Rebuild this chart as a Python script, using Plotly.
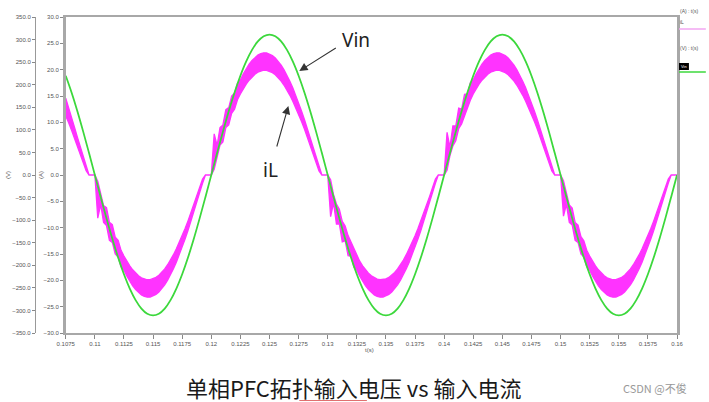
import plotly.graph_objects as go

# ------------------------------------------------------------------ data
T_START = 0.1075          # s, left edge of the time window
VIN_STEP = 0.0005         # s, sampling of the Vin trace
IL_STEP = 0.00025         # s, sampling of the iL ripple envelope

# Input voltage Vin (V)
VIN = [
    219.9, 182.8, 141.2, 96.1, 48.6,
    0.0, -48.6, -96.1, -141.2, -182.8, -219.9, -251.6, -277.1, -295.8, -307.2,
    -311.0, -307.2, -295.8, -277.1, -251.6, -219.9, -182.8, -141.2, -96.1, -48.6,
    0.0, 48.6, 96.1, 141.2, 182.8, 219.9, 251.6, 277.1, 295.8, 307.2,
    311.0, 307.2, 295.8, 277.1, 251.6,
    219.9, 182.8, 141.2, 96.1, 48.6,
    0.0, -48.6, -96.1, -141.2, -182.8, -219.9, -251.6, -277.1, -295.8, -307.2,
    -311.0, -307.2, -295.8, -277.1, -251.6, -219.9, -182.8, -141.2, -96.1, -48.6,
    0.0, 48.6, 96.1, 141.2, 182.8, 219.9, 251.6, 277.1, 295.8, 307.2,
    311.0, 307.2, 295.8, 277.1, 251.6,
    219.9, 182.8, 141.2, 96.1, 48.6,
    0.0, -48.6, -96.1, -141.2, -182.8, -219.9, -251.6, -277.1, -295.8, -307.2,
    -311.0, -307.2, -295.8, -277.1, -251.6, -219.9, -182.8, -141.2, -96.1, -48.6,
    0.0,
]

# Inductor current iL (A): upper / lower edge of the switching-ripple band
IL_HI_A = [14.6, 12.9, 11.0, 9.1, 7.2, 5.3, 3.4, 1.6, 0.0, 0.0]
IL_LO_A = [11.2, 9.9, 8.5, 7.0, 5.5, 4.0, 2.4, 0.8, 0.0, 0.0]

IL_HI_B = [0.0, -1.2, -3.4, -5.8, -6.2, -9.0, -9.4, -11.8, -12.4, -14.3,
           -15.39, -16.37, -17.24, -18.00, -18.63, -19.14, -19.52, -19.77, -19.89, -19.87,
           -19.72, -19.44, -19.03, -18.49, -17.83, -17.04, -16.14, -15.13, -14.02, -12.82,
           -11.52, -10.15, -8.71, -7.20, -5.65, -4.06, -2.43, -0.79, 0.0, 0.0]
IL_LO_B = [0.0, -8.2, -5.6, -9.0, -9.6, -12.4, -12.8, -15.0, -15.6, -17.4,
           -18.09, -19.20, -20.19, -21.05, -21.77, -22.34, -22.77, -23.06, -23.19, -23.17,
           -23.00, -22.68, -22.22, -21.60, -20.85, -19.97, -18.95, -17.81, -16.55, -15.19,
           -13.72, -12.17, -10.53, -8.83, -7.07, -5.27, -3.43, -1.57, 0.0, 0.0]

IL_HI_C = [0.0, 7.8, 5.6, 9.0, 9.5, 12.4, 12.8, 15.0, 15.6, 17.4,
           18.09, 19.20, 20.19, 21.05, 21.77, 22.34, 22.77, 23.06, 23.19, 23.17,
           23.00, 22.68, 22.22, 21.60, 20.85, 19.97, 18.95, 17.81, 16.55, 15.19,
           13.72, 12.17, 10.53, 8.83, 7.07, 5.27, 3.43, 1.57, 0.0, 0.0]
IL_LO_C = [0.0, 1.1, 3.5, 5.7, 6.3, 9.0, 9.5, 11.7, 12.5, 14.3,
           15.39, 16.37, 17.24, 18.00, 18.63, 19.14, 19.52, 19.77, 19.89, 19.87,
           19.72, 19.44, 19.03, 18.49, 17.83, 17.04, 16.14, 15.13, 14.02, 12.82,
           11.52, 10.15, 8.71, 7.20, 5.65, 4.06, 2.43, 0.79, 0.0, 0.0]

IL_HI_D = [0.0, -0.9, -3.7, -5.5, -6.5, -8.8, -9.7, -11.5, -12.7, -14.2,
           -15.39, -16.37, -17.24, -18.00, -18.63, -19.14, -19.52, -19.77, -19.89, -19.87,
           -19.72, -19.44, -19.03, -18.49, -17.83, -17.04, -16.14, -15.13, -14.02, -12.82,
           -11.52, -10.15, -8.71, -7.20, -5.65, -4.06, -2.43, -0.79, 0.0, 0.0]
IL_LO_D = [0.0, -7.9, -5.3, -9.3, -9.3, -12.7, -12.5, -15.3, -15.4, -17.5,
           -18.09, -19.20, -20.19, -21.05, -21.77, -22.34, -22.77, -23.06, -23.19, -23.17,
           -23.00, -22.68, -22.22, -21.60, -20.85, -19.97, -18.95, -17.81, -16.55, -15.19,
           -13.72, -12.17, -10.53, -8.83, -7.07, -5.27, -3.43, -1.57, 0.0, 0.0]

IL_HI_E = [0.0, 8.1, 5.3, 9.3, 9.3, 12.7, 12.5, 15.3, 15.4, 17.5,
           18.09, 19.20, 20.19, 21.05, 21.77, 22.34, 22.77, 23.06, 23.19, 23.17,
           23.00, 22.68, 22.22, 21.60, 20.85, 19.97, 18.95, 17.81, 16.55, 15.19,
           13.72, 12.17, 10.53, 8.83, 7.07, 5.27, 3.43, 1.57, 0.0, 0.0]
IL_LO_E = [0.0, 0.9, 3.7, 5.5, 6.5, 8.8, 9.7, 11.5, 12.7, 14.2,
           15.39, 16.37, 17.24, 18.00, 18.63, 19.14, 19.52, 19.77, 19.89, 19.87,
           19.72, 19.44, 19.03, 18.49, 17.83, 17.04, 16.14, 15.13, 14.02, 12.82,
           11.52, 10.15, 8.71, 7.20, 5.65, 4.06, 2.43, 0.79, 0.0, 0.0]

IL_HI_F = [0.0, -1.1, -3.5, -5.7, -6.3, -9.0, -9.5, -11.7, -12.5, -14.3,
           -15.39, -16.37, -17.24, -18.00, -18.63, -19.14, -19.52, -19.77, -19.89, -19.87,
           -19.72, -19.44, -19.03, -18.49, -17.83, -17.04, -16.14, -15.13, -14.02, -12.82,
           -11.52, -10.15, -8.71, -7.20, -5.65, -4.06, -2.43, -0.79, 0.0, 0.0]
IL_LO_F = [0.0, -7.8, -5.6, -9.0, -9.5, -12.4, -12.8, -15.0, -15.6, -17.4,
           -18.09, -19.20, -20.19, -21.05, -21.77, -22.34, -22.77, -23.06, -23.19, -23.17,
           -23.00, -22.68, -22.22, -21.60, -20.85, -19.97, -18.95, -17.81, -16.55, -15.19,
           -13.72, -12.17, -10.53, -8.83, -7.07, -5.27, -3.43, -1.57, 0.0, 0.0]

IL_HI_END = [0.0]
IL_LO_END = [0.0]

IL_HI = IL_HI_A + IL_HI_B + IL_HI_C + IL_HI_D + IL_HI_E + IL_HI_F + IL_HI_END
IL_LO = IL_LO_A + IL_LO_B + IL_LO_C + IL_LO_D + IL_LO_E + IL_LO_F + IL_LO_END

X_TICKS = [0.1075, 0.11, 0.1125, 0.115, 0.1175, 0.12, 0.1225, 0.125, 0.1275, 0.13,
           0.1325, 0.135, 0.1375, 0.14, 0.1425, 0.145, 0.1475, 0.15, 0.1525, 0.155,
           0.1575, 0.16]
X_LABELS = ["0.1075", "0.11", "0.1125", "0.115", "0.1175", "0.12", "0.1225", "0.125",
            "0.1275", "0.13", "0.1325", "0.135", "0.1375", "0.14", "0.1425", "0.145",
            "0.1475", "0.15", "0.1525", "0.155", "0.1575", "0.16"]

TITLE = "单相PFC拓扑输入电压 vs 输入电流"
WATERMARK = "CSDN @不俊"

# ------------------------------------------------------------------ geometry / style
W, H = 709, 402
ML, MR, MT, MB = 20, 32, 17, 69
MAG = "#FF33FF"
GRN = "#3CD83C"
AX = "#a8a8a8"
TXT = "#555555"


def px(x):
    return (x - ML) / (W - ML - MR)


def py(y):
    return (H - MB - y) / (H - MT - MB)


t_vin = [round(T_START + VIN_STEP * i, 6) for i in range(len(VIN))]
t_il = [round(T_START + IL_STEP * i, 6) for i in range(len(IL_HI))]

fig = go.Figure()
fig.add_trace(go.Scatter(
    x=t_il + t_il[::-1], y=IL_HI + IL_LO[::-1], mode="lines", fill="toself",
    fillcolor=MAG, line=dict(color=MAG, width=1.3), yaxis="y", hoverinfo="skip",
    name="iL"))
fig.add_trace(go.Scatter(
    x=t_vin, y=VIN, mode="lines", line=dict(color=GRN, width=1.8, shape="spline"),
    yaxis="y2", name="Vin"))

tickfont = dict(size=6, color=TXT, family="Liberation Sans")

fig.update_layout(
    width=W, height=H, margin=dict(l=ML, r=MR, t=MT, b=MB),
    paper_bgcolor="white", plot_bgcolor="white", showlegend=False,
    xaxis=dict(domain=[px(62), 1], range=[0.1075, 0.16], tickvals=X_TICKS,
               ticktext=X_LABELS, ticks="outside", ticklen=4, tickcolor="#888",
               tickfont=tickfont, showline=True, linecolor=AX, linewidth=2,
               mirror=True, showgrid=False, zeroline=False),
    yaxis=dict(range=[-30, 30], tick0=0, dtick=5, tickformat=".1f", ticks="outside",
               ticklen=3, tickcolor="#888", tickfont=tickfont, showline=True,
               linecolor=AX, linewidth=2.5, mirror=True, showgrid=False,
               zeroline=False),
    yaxis2=dict(overlaying="y", anchor="free", position=px(31), side="left",
                range=[-350, 350], tick0=0, dtick=50, tickformat=".1f",
                ticks="outside", ticklen=3, tickcolor="#888", tickfont=tickfont,
                showline=True, linecolor="#999", linewidth=1, showgrid=False,
                zeroline=False),
)

ann = []


def text(x, y, s, size, color=TXT, family="Liberation Sans", angle=0, xanchor="center"):
    ann.append(dict(x=px(x), y=py(y), xref="paper", yref="paper", text=s,
                    showarrow=False, xanchor=xanchor, yanchor="middle",
                    textangle=angle, borderpad=0,
                    font=dict(size=size, color=color, family=family)))


# axis titles
text(4, 175, "(V)", 6, angle=-90)
text(37, 175, "(A)", 6, angle=-90)
text(368, 350, "t(s)", 6)

# legend block on the right
text(679, 11, "(A) : t(s)", 5, xanchor="left")
text(679, 22, "iL", 5, xanchor="left")
text(679, 48, "(V) : t(s)", 5, xanchor="left")
text(680, 66.5, "Vin", 4, color="white", xanchor="left")

# in-plot labels
text(354, 40, "Vin", 19, color="#222222", family="Noto Sans")
text(268, 170, "iL", 19, color="#222222", family="Noto Sans")

# caption and watermark
text(351.5, 387, TITLE, 22, color="#1a1a1a", family="Noto Sans CJK SC")
text(655, 388, WATERMARK, 11, color="#999999", family="Noto Sans CJK SC")

# arrows
for hx, hy, tx, ty in [(297, 71, 335, 47), (286, 106, 274, 148)]:
    ann.append(dict(x=px(hx), y=py(hy), xref="paper", yref="paper", text="",
                    showarrow=True, ax=tx - hx, ay=ty - hy, arrowhead=2,
                    arrowsize=1.5, arrowwidth=1.1, arrowcolor="#333333"))

fig.update_layout(annotations=ann)

shapes = [
    dict(type="line", xref="paper", yref="paper", x0=px(679), x1=px(706),
         y0=py(29), y1=py(29), line=dict(color="#f2a6f2", width=1.5)),
    dict(type="rect", xref="paper", yref="paper", x0=px(679), x1=px(689),
         y0=py(63), y1=py(70), fillcolor="black", line=dict(width=0)),
    dict(type="line", xref="paper", yref="paper", x0=px(679), x1=px(706),
         y0=py(72), y1=py(72), line=dict(color=GRN, width=1.5)),
    dict(type="line", xref="paper", yref="paper", x0=px(297), x1=px(365),
         y0=py(400.5), y1=py(400.5), line=dict(color="#e07070", width=1)),
]
fig.update_layout(shapes=shapes)

fig.write_html(
    "out.html",
    config={"displayModeBar": False},
    post_script="document.body.style.margin='0px';document.body.style.overflow='hidden';",
)
